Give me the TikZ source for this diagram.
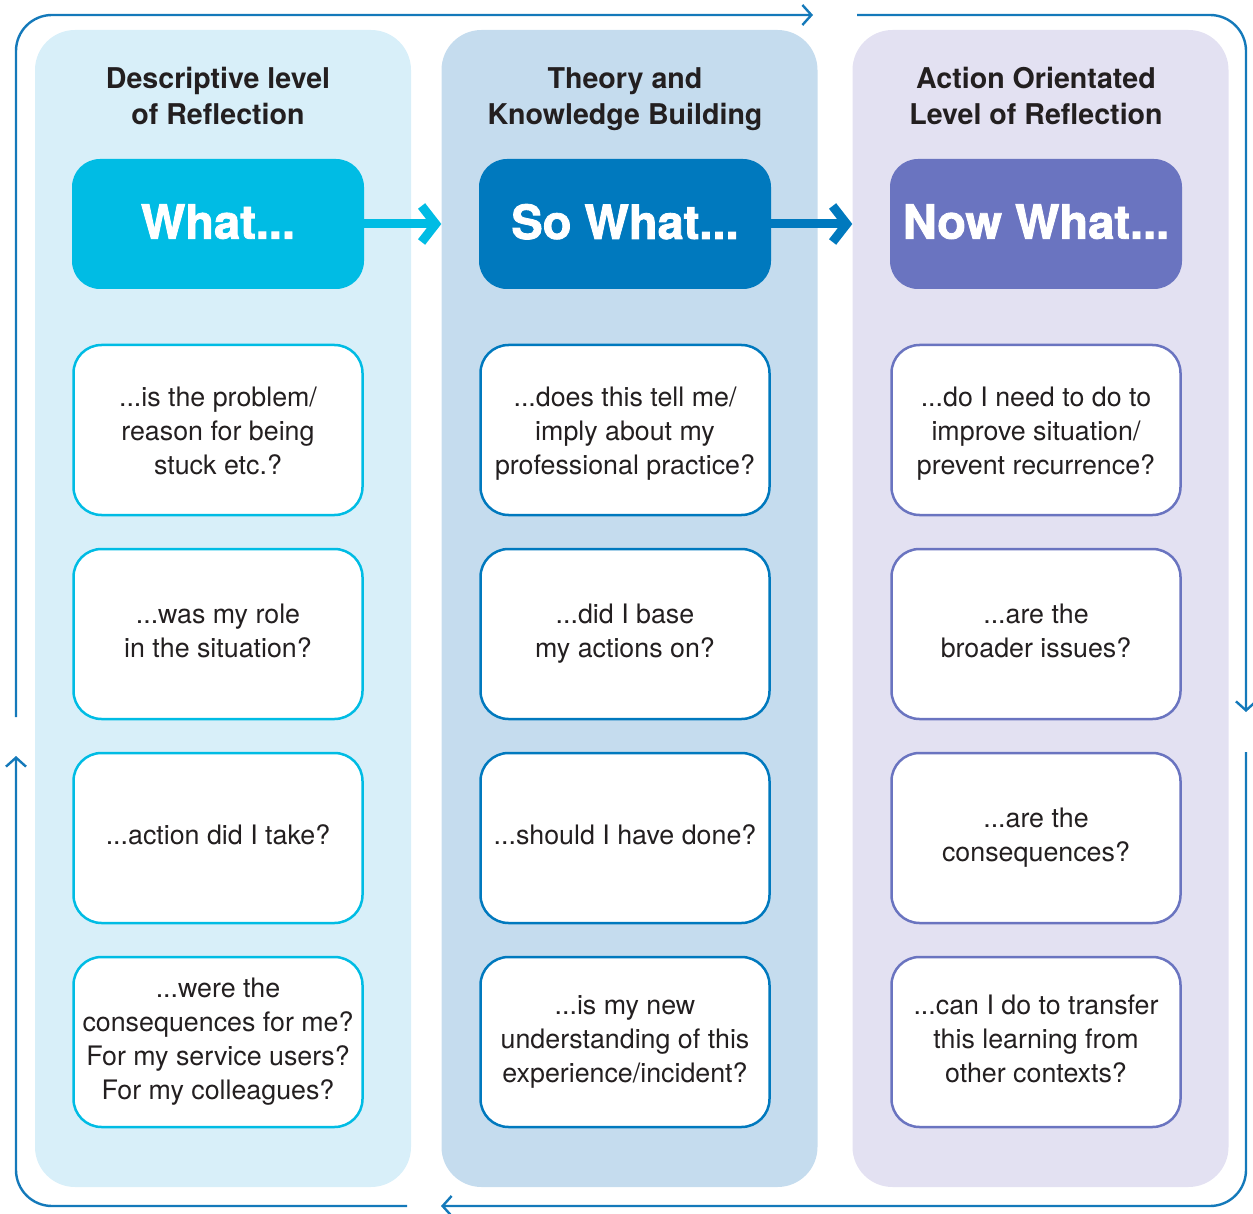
\documentclass[tikz,border=0pt]{standalone}
\usepackage{fontspec}
\setmainfont{TeX Gyre Heros}
\newfontfamily\heavyfont[BoldFeatures={FakeBold=1.8}]{TeX Gyre Heros}
\usetikzlibrary{arrows.meta}
\definecolor{pA}{HTML}{D8EFF9}
\definecolor{pB}{HTML}{C5DCEE}
\definecolor{pC}{HTML}{E3E1F2}
\definecolor{cA}{HTML}{00BCE4}
\definecolor{cB}{HTML}{0079BE}
\definecolor{cC}{HTML}{6A74C0}
\definecolor{loopc}{HTML}{1479BA}
\definecolor{ink}{HTML}{231F20}
\tikzset{
  panel/.style={draw=none, rounded corners=40pt, minimum width=376pt, minimum height=1157pt, inner sep=0pt},
  title/.style={align=center, text=ink, inner sep=0pt, font=\fontsize{28.6}{36}\selectfont\bfseries},
  header/.style={rounded corners=28pt, minimum width=292pt, minimum height=130pt, inner sep=0pt, text depth=5pt, text=white, font=\heavyfont\fontsize{47}{50}\selectfont\bfseries},
  qbox/.style={draw, fill=white, line width=2.5pt, rounded corners=28pt, minimum width=289pt, minimum height=170pt, inner sep=0pt, align=center, text=ink, font=\fontsize{26.8}{34}\selectfont},
  toprow/.style={text depth=2.2pt},
  harrow/.style={line width=9pt, -{Straight Barb[length=14pt, width=36pt, line width=9pt]}},
  looparrow/.style={draw=loopc, line width=2.4pt, rounded corners=36pt, -{Straight Barb[length=9pt, width=20pt, line width=2.4pt]}}
}
\begin{document}
\begin{tikzpicture}[x=1pt, y=-1pt]
\useasboundingbox (0,0) rectangle (1253,1214);
% panels
\node[panel, fill=pA] (p1) at (223,608.5) {};
\node[panel, fill=pB] (p2) at (629.5,608.5) {};
\node[panel, fill=pC] (p3) at (1040.5,608.5) {};
% titles
\node[title] (t1) at (218,99) {\strut Descriptive level\\\strut of Reflection};
\node[title] (t2) at (625,99) {\strut Theory and\\\strut Knowledge Building};
\node[title] (t3) at (1036,99) {\strut Action Orientated\\\strut Level of Reflection};
% headers
\node[header, fill=cA] (h1) at (218,224) {What...};
\node[header, fill=cB] (h2) at (625,224) {So What...};
\node[header, fill=cC] (h3) at (1036,224) {Now What...};
\draw[harrow, cA] (h1.east) -- (p2.west |- h1.east);
\draw[harrow, cB] (h2.east) -- (p3.west |- h2.east);
% column 1
\node[qbox, toprow, draw=cA] (a1) at (218,430) {\strut...is the problem/\\\strut reason for being\\\strut stuck etc.?};
\node[qbox, draw=cA] (a2) at (218,634) {\strut...was my role\\\strut in the situation?};
\node[qbox, draw=cA] (a3) at (218,838) {\strut...action did I take?};
\node[qbox, draw=cA] (a4) at (218,1042) {\strut...were the\\\strut consequences for me?\\\strut For my service users?\\\strut For my colleagues?};
% column 2
\node[qbox, toprow, draw=cB] (b1) at (625,430) {\strut...does this tell me/\\\strut imply about my\\\strut professional practice?};
\node[qbox, draw=cB] (b2) at (625,634) {\strut...did I base\\\strut my actions on?};
\node[qbox, draw=cB] (b3) at (625,838) {\strut...should I have done?};
\node[qbox, draw=cB] (b4) at (625,1042) {\strut...is my new\\\strut understanding of this\\\strut experience/incident?};
% column 3
\node[qbox, toprow, draw=cC] (c1) at (1036,430) {\strut...do I need to do to\\\strut improve situation/\\\strut prevent recurrence?};
\node[qbox, draw=cC] (c2) at (1036,634) {\strut...are the\\\strut broader issues?};
\node[qbox, draw=cC] (c3) at (1036,838) {\strut...are the\\\strut consequences?};
\node[qbox, draw=cC] (c4) at (1036,1042) {\strut...can I do to transfer\\\strut this learning from\\\strut other contexts?};
% outer cycle
\coordinate (l1) at (16,717);
\coordinate (l2) at (813,15);
\coordinate (r1) at (857,15);
\coordinate (r2) at (1246,712);
\coordinate (b1s) at (1246,752);
\coordinate (b1e) at (441,1206);
\coordinate (b2s) at (407,1206);
\coordinate (b2e) at (16,756);
\draw[looparrow] (l1) |- (l2);
\draw[looparrow] (r1) -| (r2);
\draw[looparrow] (b1s) |- (b1e);
\draw[looparrow] (b2s) -| (b2e);
\end{tikzpicture}
\end{document}
